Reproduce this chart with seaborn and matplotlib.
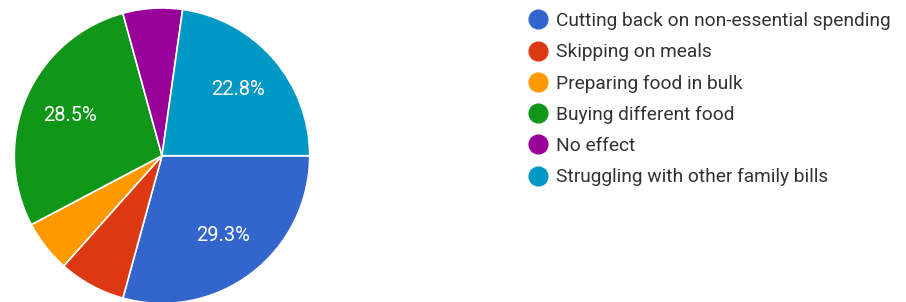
import matplotlib
matplotlib.use("Agg")
import matplotlib.pyplot as plt
import seaborn as sns
from matplotlib.lines import Line2D

categories = [
    "Cutting back on non-essential spending",
    "Skipping on meals",
    "Preparing food in bulk",
    "Buying different food",
    "No effect",
    "Struggling with other family bills",
]
counts = [36, 9, 7, 35, 8, 28]
colors = ["#3366cc", "#dc3912", "#ff9900", "#109618", "#990099", "#0099c6"]

sns.set_theme(style="white")
plt.rcParams["font.family"] = ["Roboto", "DejaVu Sans"]

W, H = 906, 302
fig = plt.figure(figsize=(W / 100, H / 100), dpi=100)
cx, cy, r = 162, 155.7, 147.7
ax = fig.add_axes([(cx - r) / W, (H - cy - r) / H, 2 * r / W, 2 * r / H])


def fmt(p):
    return f"{p:.1f}%" if p > 10 else ""


wedges, texts, autotexts = ax.pie(
    counts,
    colors=colors,
    startangle=0,
    counterclock=False,
    autopct=fmt,
    pctdistance=0.68,
    wedgeprops=dict(edgecolor="white", linewidth=1.2),
    textprops=dict(color="white", fontsize=14.5),
    radius=1,
)
ax.set_xlim(-1, 1)
ax.set_ylim(-1, 1)
ax.set_aspect("equal")
ax.axis("off")

handles = [
    Line2D([0], [0], marker="o", linestyle="none", markersize=13.5,
           markerfacecolor=c, markeredgecolor=c)
    for c in colors
]
leg = fig.legend(
    handles, categories,
    loc="upper left",
    bbox_to_anchor=(526 / W, 1 - 12 / H),
    frameon=False,
    fontsize=13.8,
    labelspacing=0.69,
    handletextpad=0.35,
    handlelength=1.2,
    borderaxespad=0,
    borderpad=0,
)
for t in leg.get_texts():
    t.set_color("#333333")

fig.savefig("out.png", dpi=100, facecolor="white")
